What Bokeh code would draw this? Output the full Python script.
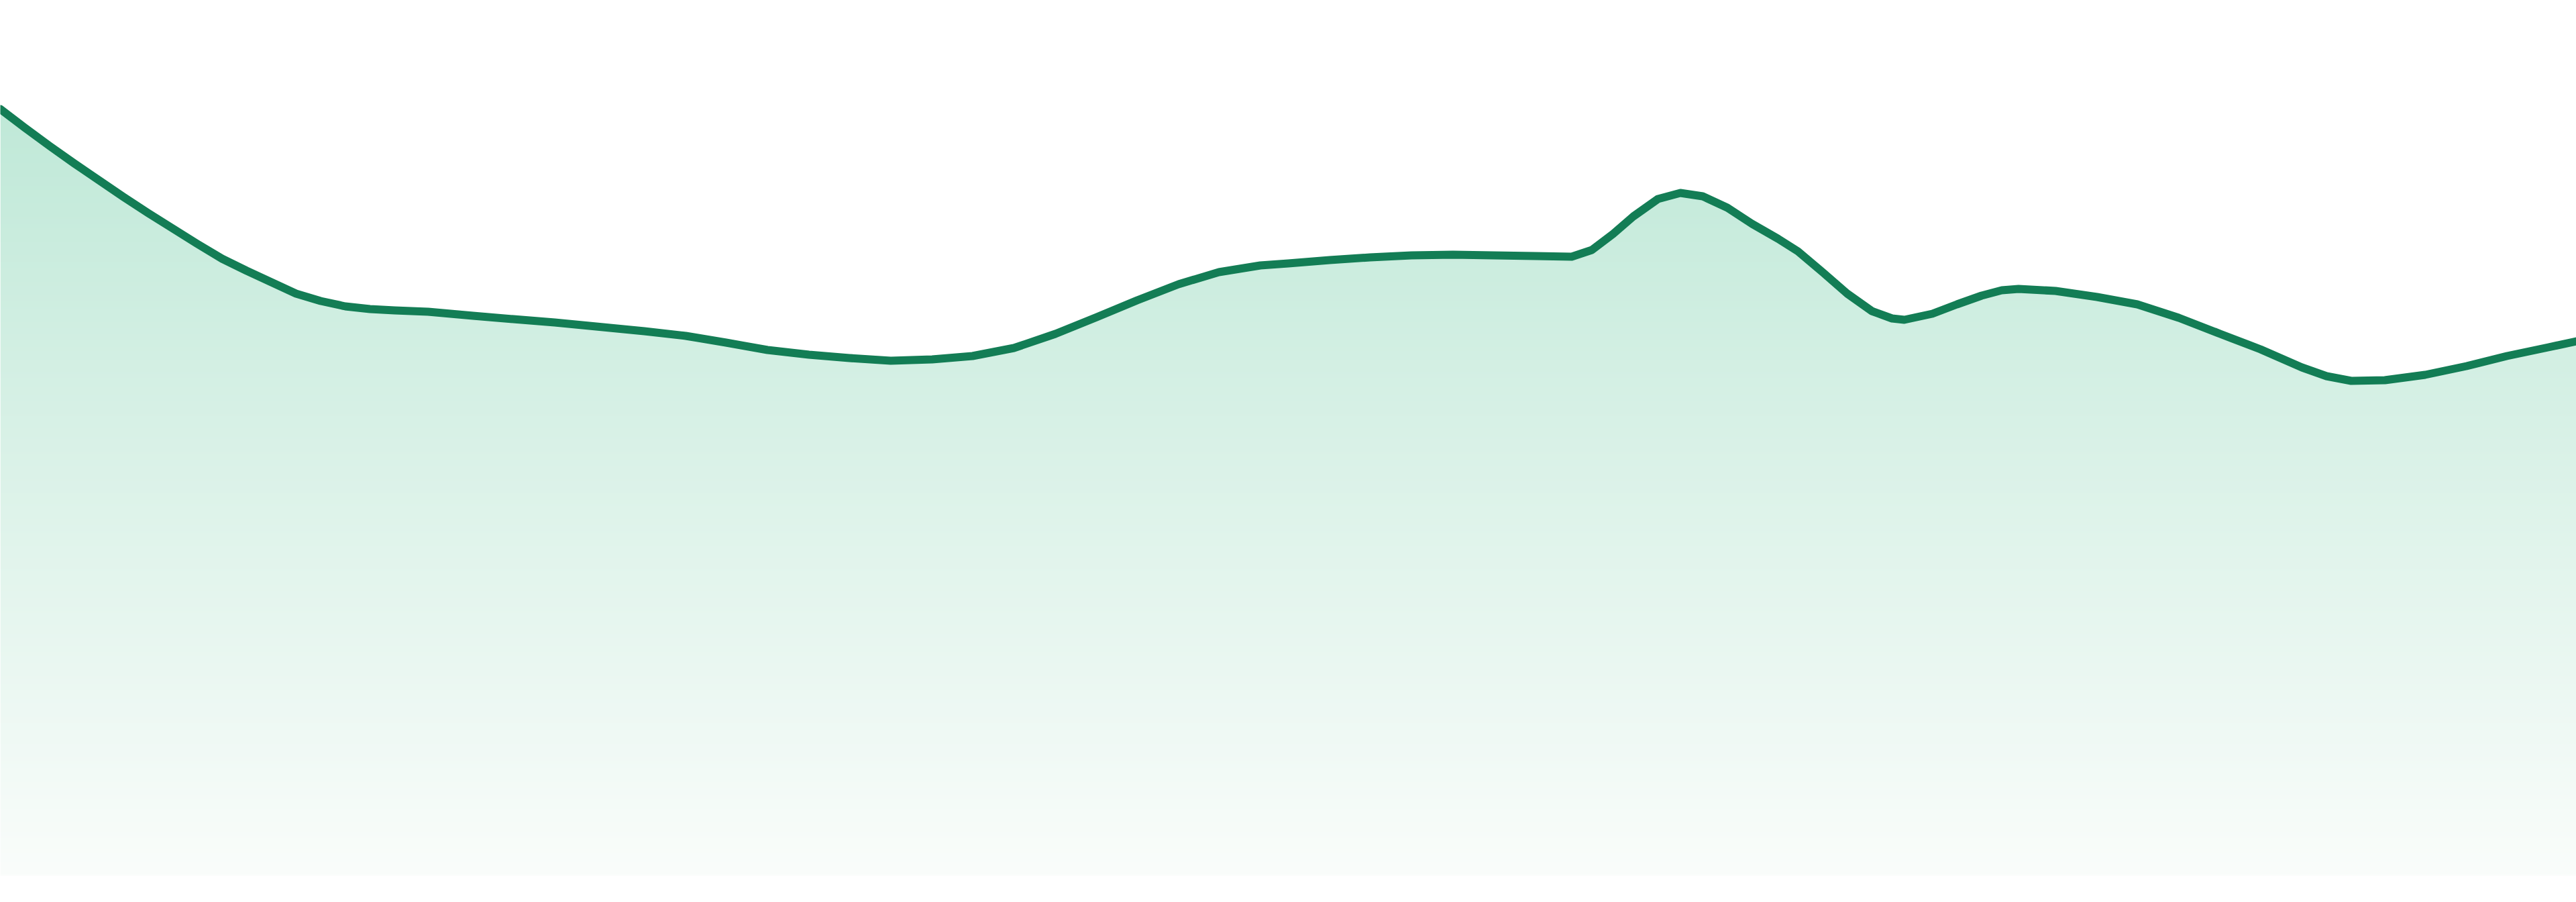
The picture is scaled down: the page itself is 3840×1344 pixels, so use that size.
#!/usr/bin/env python3

import numpy as np
from bokeh.models import Range1d
from bokeh.plotting import figure
from bokeh.embed import file_html
from bokeh.resources import INLINE

try:
    from bokeh.models import GlobalInlineStyleSheet
except ImportError:
    GlobalInlineStyleSheet = None


# points: x in period units (0..23), value above baseline
t = [0, 0.22, 0.44, 0.66, 0.88, 1.10, 1.32, 1.54, 1.76, 1.98,
     2.20, 2.42, 2.64, 2.86, 3.08, 3.30, 3.52, 3.82, 4.22, 4.58,
     4.95, 5.32, 5.75, 6.12, 6.48, 6.85, 7.22, 7.58, 7.95, 8.32,
     8.68, 9.05, 9.42, 9.79, 10.15, 10.52, 10.88, 11.25, 11.50, 11.87,
     12.23, 12.60, 12.97, 13.33, 13.70, 14.03, 14.21, 14.40, 14.58, 14.80,
     15.00, 15.20, 15.42, 15.64, 15.87, 16.05, 16.27, 16.49, 16.71, 16.89,
     17.00, 17.25, 17.47, 17.69, 17.87, 18.02, 18.35, 18.72, 19.08, 19.45,
     19.82, 20.18, 20.55, 20.77, 20.99, 21.29, 21.65, 22.02, 22.38, 22.75,
     23.00]
value = [114.2, 111.4, 108.7, 106.1, 103.6, 101.1, 98.7, 96.4, 94.1, 91.9,
         90.1, 88.4, 86.7, 85.6, 84.8, 84.4, 84.2, 84.0, 83.4, 82.9,
         82.4, 81.8, 81.1, 80.4, 79.4, 78.3, 77.6, 77.1, 76.7, 76.9,
         77.4, 78.6, 80.7, 83.2, 85.7, 88.1, 89.9, 90.9, 91.2, 91.7,
         92.1, 92.4, 92.5, 92.4, 92.3, 92.2, 93.2, 95.6, 98.2, 100.8,
         101.7, 101.2, 99.5, 97.1, 94.9, 93.0, 89.9, 86.7, 84.1, 83.0,
         82.8, 83.7, 85.1, 86.4, 87.2, 87.4, 87.1, 86.2, 85.1, 83.1,
         80.7, 78.4, 75.7, 74.4, 73.7, 73.8, 74.6, 75.9, 77.4, 78.7,
         79.6]

line_colour = "#137d55"
top_colour = (192, 233, 216)
bottom_colour = (250, 253, 251)

y_top = 130.4
y_bottom = -4.0

p = figure(
    width=3840,
    height=1344,
    x_range=Range1d(0, 23),
    y_range=Range1d(y_bottom, y_top),
    toolbar_location=None,
    output_backend="svg",
    min_border=0,
)
if GlobalInlineStyleSheet is not None:
    # chart runs edge to edge in the window
    p.stylesheets = [GlobalInlineStyleSheet(css="html, body { margin: 0; padding: 0; overflow: hidden; }")]
p.axis.visible = False
p.grid.grid_line_color = None
p.outline_line_color = None
p.background_fill_color = "white"
p.border_fill_color = "white"

# vertical gradient under the curve (a 1 px wide image, stretched)
rows = 400
frac = np.linspace(0, 1, rows)[:, None]
img = np.empty((rows, 1), dtype=np.uint32)
view = img.view(dtype=np.uint8).reshape((rows, 1, 4))
for k in range(3):
    view[:, :, k] = (bottom_colour[k] + (top_colour[k] - bottom_colour[k]) * frac).astype(np.uint8)
view[:, :, 3] = 255
grad_top = max(value)
p.image_rgba(image=[img], x=0, y=0, dw=23, dh=grad_top)

# white mask above the curve
p.varea(x=t, y1=value, y2=y_top, fill_color="white")

p.line(t, value, line_width=12, line_color=line_colour, line_join="round", line_cap="round")

open("out.html", "w").write(file_html(p, INLINE))
